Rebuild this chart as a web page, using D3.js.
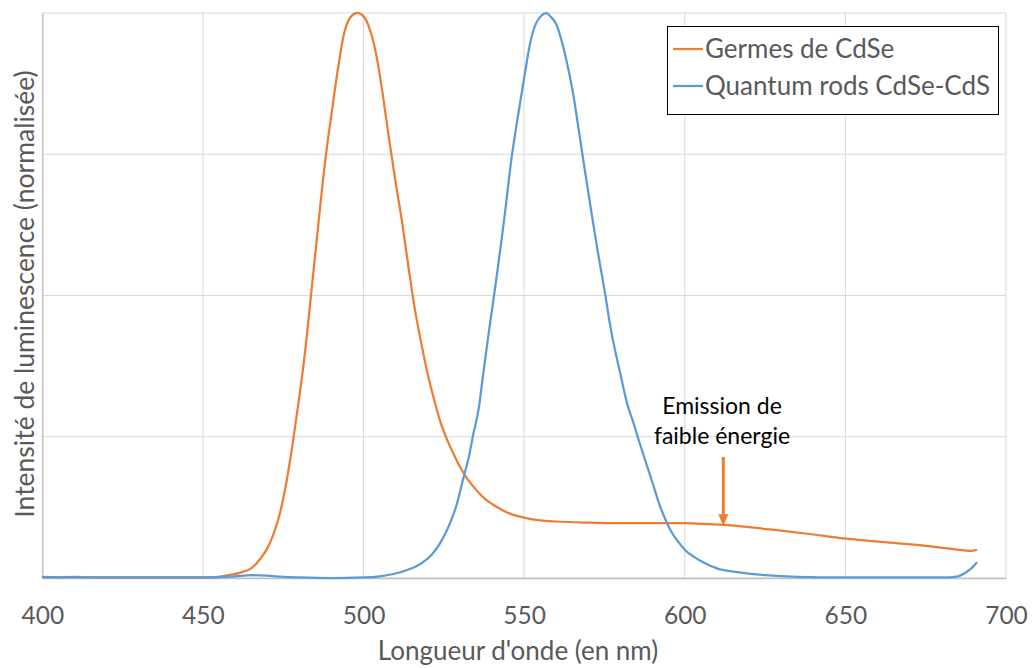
<!DOCTYPE html>
<html>
<head>
<meta charset="utf-8">
<script src="https://cdn.jsdelivr.net/npm/d3@7"></script>
<style>
  html, body { margin: 0; padding: 0; background: #fff; }
  svg { display: block; font-family: Lato, "Open Sans", sans-serif; }
</style>
</head>
<body>
<svg id="chart" width="1033" height="668"></svg>
<script>
// ---------- data ----------
const xTicks = [400, 450, 500, 550, 600, 650, 700];
const yGrid = [0, 0.25, 0.5, 0.75, 1];

const germesWavelength = [400,410,420,430,440,450,455,458,462,465,468,470,472,474,476,478,480,482,484,486,488,490,492,494,496,498,500,502,504,506,508,510,512,514,516,518,520,522,524,526,528,530,532,534,536,538,540,543,546,550,555,560,570,580,590,600,605,612,620,628,640,648,655,665,675,681,687,689,691];
const germesIntensity = [0.001,0.002,0.001,0.001,0.001,0.001,0.002,0.005,0.010,0.017,0.035,0.052,0.078,0.115,0.170,0.240,0.320,0.410,0.520,0.630,0.735,0.820,0.900,0.965,0.993,1.000,0.994,0.970,0.925,0.855,0.775,0.700,0.630,0.550,0.475,0.415,0.360,0.315,0.275,0.245,0.220,0.197,0.178,0.163,0.150,0.139,0.131,0.121,0.113,0.107,0.102,0.100,0.098,0.097,0.097,0.097,0.096,0.094,0.090,0.085,0.077,0.071,0.067,0.062,0.057,0.053,0.049,0.048,0.050];

const rodsWavelength = [400,410,420,430,440,450,456,460,465,470,475,480,490,500,505,510,514,518,521,524,527,529,531,533,534,536,537,539,541,543,544,546,548,550,552,554,557,558,560,563,565,568,571,573,575,577,580,582,584,586,588,590,592,594,596,598,600,603,606,610,617,625,635,650,670,682,685,687,689,691];
const rodsIntensity = [0.002,0.001,0.001,0.001,0.001,0.001,0.002,0.003,0.005,0.004,0.002,0.001,0.000,0.001,0.003,0.008,0.015,0.026,0.040,0.063,0.098,0.130,0.175,0.220,0.250,0.305,0.350,0.435,0.515,0.600,0.645,0.740,0.815,0.885,0.950,0.985,1.000,0.995,0.980,0.920,0.865,0.755,0.645,0.575,0.510,0.440,0.360,0.310,0.275,0.238,0.203,0.168,0.132,0.103,0.080,0.064,0.050,0.037,0.027,0.017,0.010,0.005,0.002,0.001,0.001,0.001,0.003,0.008,0.016,0.028];

const seriesNames = ["Germes de CdSe", "Quantum rods CdSe-CdS"];
const seriesColors = ["#ED7D31", "#5B9BD5"];
const xTitle = "Longueur d'onde (en nm)";
const yTitle = "Intensité de luminescence (normalisée)";
const annotationLines = ["Emission de", "faible énergie"];
const annotationAt = [612, 0.097];

// ---------- layout ----------
const svg = d3.select("#chart");
const pLeft = 42.3, pRight = 1006, pTop = 13, pBottom = 578;
const x = d3.scaleLinear().domain([400, 700]).range([pLeft, pRight]);
const y = d3.scaleLinear().domain([0, 1]).range([pBottom, pTop]);

// gridlines
svg.append("g").selectAll("line").data(xTicks).join("line")
  .attr("x1", d => x(d)).attr("x2", d => x(d))
  .attr("y1", pTop).attr("y2", pBottom)
  .attr("stroke", "#D9D9D9").attr("stroke-width", 1);
svg.append("g").selectAll("line").data(yGrid).join("line")
  .attr("x1", pLeft).attr("x2", pRight)
  .attr("y1", d => y(d)).attr("y2", d => y(d))
  .attr("stroke", "#D9D9D9").attr("stroke-width", 1);

// axes
const xAxis = d3.axisBottom(x).tickValues(xTicks).tickSize(0).tickPadding(0).tickFormat(d3.format("d"));
const gx = svg.append("g").attr("transform", `translate(0,${pBottom})`).call(xAxis);
gx.select(".domain").attr("stroke", "#BFBFBF").attr("stroke-width", 1.3);
gx.selectAll("text").attr("font-size", 24.5).attr("fill", "#595959")
  .attr("font-family", "Lato, 'Open Sans', sans-serif")
  .attr("dy", null).attr("y", 46);

const yAxis = d3.axisLeft(y).tickValues([]).tickSize(0);
const gy = svg.append("g").attr("transform", `translate(${pLeft},0)`).call(yAxis);
gy.select(".domain").attr("stroke", "#BFBFBF").attr("stroke-width", 1.3);

// titles
svg.append("text").attr("x", 518).attr("y", 660)
  .attr("text-anchor", "middle").attr("font-size", 26).attr("fill", "#595959").text(xTitle);
svg.append("text").attr("transform", "translate(34,294) rotate(-90)")
  .attr("text-anchor", "middle").attr("font-size", 26.5).attr("fill", "#595959").text(yTitle);

// lines
const line = d3.line().x(d => x(d[0])).y(d => y(d[1])).curve(d3.curveMonotoneX);
const series = [
  d3.zip(germesWavelength, germesIntensity),
  d3.zip(rodsWavelength, rodsIntensity)
];
svg.append("g").selectAll("path").data(series).join("path")
  .attr("d", line).attr("fill", "none")
  .attr("stroke", (d, i) => seriesColors[i]).attr("stroke-width", 2.25)
  .attr("stroke-linejoin", "round");

// annotation
const ann = svg.append("text").attr("text-anchor", "middle").attr("font-size", 23).attr("fill", "#000");
annotationLines.forEach((t, i) => {
  ann.append("tspan").attr("x", 722).attr("y", 414 + i * 30).text(t);
});
const ax = x(annotationAt[0]);
const ayTip = y(annotationAt[1]) + 3;
svg.append("line").attr("x1", ax).attr("x2", ax).attr("y1", 457).attr("y2", ayTip - 10)
  .attr("stroke", "#ED7D31").attr("stroke-width", 3);
svg.append("path")
  .attr("d", `M${ax - 5},${ayTip - 12} L${ax + 5},${ayTip - 12} L${ax},${ayTip} Z`)
  .attr("fill", "#ED7D31");

// legend
const lg = svg.append("g");
lg.append("rect").attr("x", 667.5).attr("y", 26.5).attr("width", 331).attr("height", 88)
  .attr("fill", "#fff").attr("stroke", "#000").attr("stroke-width", 1);
seriesNames.forEach((n, i) => {
  const ly = 49 + i * 37;
  lg.append("line").attr("x1", 673).attr("x2", 703).attr("y1", ly).attr("y2", ly)
    .attr("stroke", seriesColors[i]).attr("stroke-width", 2.25);
  lg.append("text").attr("x", 705).attr("y", ly + 9).attr("font-size", 26)
    .attr("fill", "#595959").text(n);
});
</script>
</body>
</html>
